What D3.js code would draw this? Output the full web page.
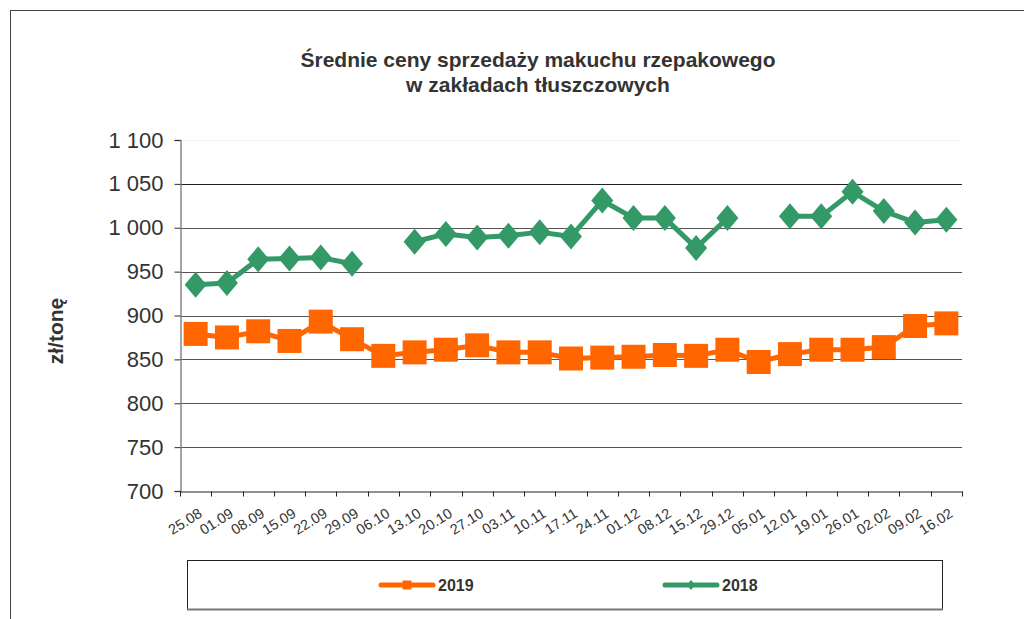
<!DOCTYPE html>
<html>
<head>
<meta charset="utf-8">
<script src="https://cdn.jsdelivr.net/npm/d3@7"></script>
<style>
  body { margin: 0; background: #fff; }
  svg { display: block; font-family: "Liberation Sans", Arial, sans-serif; }
</style>
</head>
<body>
<div id="chart"></div>
<script>
var weeks = ["25.08", "01.09", "08.09", "15.09", "22.09", "29.09", "06.10", "13.10", "20.10",
    "27.10", "03.11", "10.11", "17.11", "24.11", "01.12", "08.12", "15.12", "29.12", "05.01",
    "12.01", "19.01", "26.01", "02.02", "09.02", "16.02"];

var prices2019 = [879, 875, 882, 871, 893, 873, 854, 858, 861, 866, 858, 858, 851, 852, 853,
    855, 854, 861, 847, 856, 861, 861, 864, 888, 891];

var prices2018 = [935, 937, 964, 965, 966, 959, null, 984, 993, 989, 991, 995, 990, 1031, 1011,
    1011, 977, 1011, null, 1013, 1013, 1041, 1019, 1006, 1009];

var yTicks = [700, 750, 800, 850, 900, 950, 1000, 1050, 1100];

var series = [
    {name: "2019", values: prices2019, color: "#ff6600", marker: "square"},
    {name: "2018", values: prices2018, color: "#339966", marker: "diamond"}
];

var W = 1024, H = 619;
var plot = {left: 180, right: 962, top: 140, bottom: 491};

var svg = d3.select("#chart").append("svg")
    .attr("width", W)
    .attr("height", H);

// outer frame (runs off the right and bottom edge like in the original)
svg.append("rect")
    .attr("x", 10.5).attr("y", 10.5)
    .attr("width", 1040).attr("height", 700)
    .attr("fill", "none")
    .attr("stroke", "#444");

var x = d3.scaleBand().domain(weeks).range([plot.left, plot.right]).padding(0);
var y = d3.scaleLinear().domain([700, 1100]).range([plot.bottom, plot.top]);

var pl = d3.formatLocale({decimal: ",", thousands: " ", grouping: [3], currency: ["", " zł"]});
var fmt = pl.format(",d");

// title
var title = svg.append("text")
    .attr("text-anchor", "middle")
    .attr("font-weight", "bold")
    .attr("font-size", 21)
    .attr("fill", "#333");
title.append("tspan").attr("x", 538).attr("y", 67).text("Średnie ceny sprzedaży makuchu rzepakowego");
title.append("tspan").attr("x", 538).attr("y", 92).text("w zakładach tłuszczowych");

// gridlines
svg.append("g")
    .selectAll("line")
    .data(yTicks.filter(function(d){ return d > 700; }))
    .enter().append("line")
        .attr("x1", plot.left).attr("x2", plot.right)
        .attr("y1", function(d){ return Math.round(y(d)) + 0.5; })
        .attr("y2", function(d){ return Math.round(y(d)) + 0.5; })
        .attr("stroke", function(d){ return d == 1100 ? "#f2f2f2" : (d == 1050 ? "#222" : "#555"); })
        .attr("stroke-width", 1);

// y axis
var yAxis = d3.axisLeft(y)
    .tickValues(yTicks)
    .tickSize(6)
    .tickPadding(11)
    .tickFormat(fmt);

var gy = svg.append("g")
    .attr("transform", "translate(" + (plot.left + 0.5) + ",0)")
    .call(yAxis);
gy.select(".domain").attr("stroke", "#888").attr("stroke-width", 1.5);
gy.selectAll(".tick line").attr("stroke", "#333");
gy.selectAll(".tick text").attr("font-size", 22).attr("fill", "#333")
    .attr("font-family", "'Liberation Sans', Arial, sans-serif");

// x axis
var xAxis = d3.axisBottom(x).tickSize(0).tickFormat("");
var gx = svg.append("g")
    .attr("transform", "translate(0," + (Math.round(plot.bottom) + 0.5) + ")")
    .call(xAxis);
gx.select(".domain").attr("stroke", "#222");

// tick marks sit on the category borders
gx.selectAll(".border")
    .data(weeks.concat(["end"]))
    .enter().append("line")
        .attr("class", "border")
        .attr("x1", function(d, i){ return Math.round(plot.left + i * x.bandwidth()) + 0.5; })
        .attr("x2", function(d, i){ return Math.round(plot.left + i * x.bandwidth()) + 0.5; })
        .attr("y1", 0).attr("y2", 5)
        .attr("stroke", "#222");

svg.append("g").selectAll("text")
    .data(weeks)
    .enter().append("text")
        .attr("text-anchor", "end")
        .attr("font-size", 14.5)
        .attr("fill", "#333")
        .attr("transform", function(d){
            return "translate(" + (x(d) + x.bandwidth() / 2 + 7.5) + "," + 516 + ") rotate(-32)";
        })
        .text(function(d){ return d; });

// y axis title
svg.append("text")
    .attr("transform", "translate(63,331) rotate(-90)")
    .attr("text-anchor", "middle")
    .attr("font-weight", "bold")
    .attr("font-size", 21)
    .attr("fill", "#333")
    .text("zł/tonę");

// lines + markers
var line = d3.line()
    .defined(function(d){ return d != null; })
    .x(function(d, i){ return x(weeks[i]) + x.bandwidth() / 2; })
    .y(function(d){ return y(d); });

var square = d3.symbol().type(d3.symbolSquare).size(24 * 24);
var diamond = "M0,-13L11,0L0,13L-11,0Z";

series.forEach(function(s){
    var g = svg.append("g");
    g.append("path")
        .datum(s.values)
        .attr("d", line)
        .attr("fill", "none")
        .attr("stroke", s.color)
        .attr("stroke-width", 5)
        .attr("stroke-linejoin", "round");

    g.selectAll(".pt")
        .data(s.values.map(function(v, i){ return {v: v, w: weeks[i]}; }).filter(function(d){ return d.v != null; }))
        .enter().append("path")
            .attr("class", "pt")
            .attr("d", s.marker == "square" ? square() : diamond)
            .attr("transform", function(d){ return "translate(" + (x(d.w) + x.bandwidth() / 2) + "," + y(d.v) + ")"; })
            .attr("fill", s.color);
});

// legend
var lg = svg.append("g");
lg.append("rect")
    .attr("x", 187.5).attr("y", 560.5)
    .attr("width", 755).attr("height", 49)
    .attr("fill", "#fff")
    .attr("stroke", "#222");
lg.append("line")
    .attr("x1", 187).attr("x2", 943)
    .attr("y1", 609.5).attr("y2", 609.5)
    .attr("stroke", "#777").attr("stroke-width", 2);

var legendX = [379, 663];
series.forEach(function(s, i){
    var lx = legendX[i], ly = 585;
    lg.append("line")
        .attr("x1", lx + 2).attr("x2", lx + 54)
        .attr("y1", ly).attr("y2", ly)
        .attr("stroke", s.color)
        .attr("stroke-width", 5)
        .attr("stroke-linecap", "round");
    lg.append("path")
        .attr("d", s.marker == "square" ? d3.symbol().type(d3.symbolSquare).size(81)() : "M0,-5L4,0L0,5L-4,0Z")
        .attr("transform", "translate(" + (lx + 28) + "," + ly + ")")
        .attr("fill", s.color);
    lg.append("text")
        .attr("x", lx + 59).attr("y", ly + 6)
        .attr("font-size", 16)
        .attr("font-weight", "bold")
        .attr("fill", "#333")
        .text(s.name);
});
</script>
</body>
</html>
